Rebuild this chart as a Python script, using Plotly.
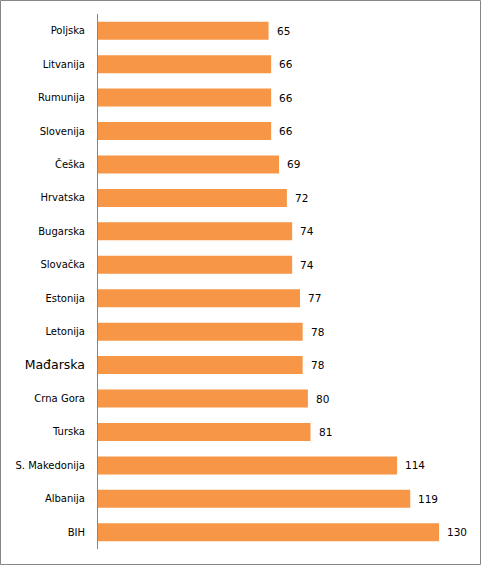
import plotly.graph_objects as go

countries = ["Poljska", "Litvanija", "Rumunija", "Slovenija", "Češka", "Hrvatska",
             "Bugarska", "Slovačka", "Estonija", "Letonija", "Mađarska", "Crna Gora",
             "Turska", "S. Makedonija", "Albanija", "BIH"]
values = [65, 66, 66, 66, 69, 72, 74, 74, 77, 78, 78, 80, 81, 114, 119, 130]

W, H = 481, 565
ml, mr, mt, mb = 98, 17, 14, 16

fig = go.Figure(go.Bar(
    x=values, y=countries, orientation="h",
    marker=dict(color="#F79646", line=dict(width=0)),
    hoverinfo="skip",
))

for c, v in zip(countries, values):
    fig.add_annotation(x=v, y=c, text=str(v), showarrow=False, xanchor="left",
                       xshift=6, font=dict(family="DejaVu Sans", size=10.5, color="#000000"))

tick_text = [f"<span style='font-size:12.5px'>{c}</span>" if c == "Mađarska" else c for c in countries]

fig.update_layout(
    width=W, height=H,
    margin=dict(l=ml, r=mr, t=mt, b=mb, autoexpand=False),
    paper_bgcolor="white", plot_bgcolor="white",
    bargap=0.46,
    showlegend=False,
    xaxis=dict(range=[0, 139.5], visible=False, fixedrange=True, automargin=False),
    yaxis=dict(autorange="reversed", categoryorder="array", categoryarray=countries,
               tickmode="array", tickvals=countries, ticktext=tick_text,
               showline=True, linecolor="#868686", linewidth=1, automargin=False,
               ticks="outside", ticklen=10, tickcolor="rgba(0,0,0,0)",
               showgrid=False, tickfont=dict(family="DejaVu Sans", size=10, color="#000000")),
    font=dict(family="DejaVu Sans"),
)

pw = W - ml - mr
ph = H - mt - mb
fig.add_shape(type="rect", xref="paper", yref="paper",
              x0=(0.5 - ml) / pw, x1=(W - 0.5 - ml) / pw,
              y0=-(H - 0.5 - mt - ph) / ph, y1=1 + (mt - 0.5) / ph,
              line=dict(color="#868686", width=1), fillcolor="rgba(0,0,0,0)", layer="above")

fig.write_html("out.html", config={"displayModeBar": False})
